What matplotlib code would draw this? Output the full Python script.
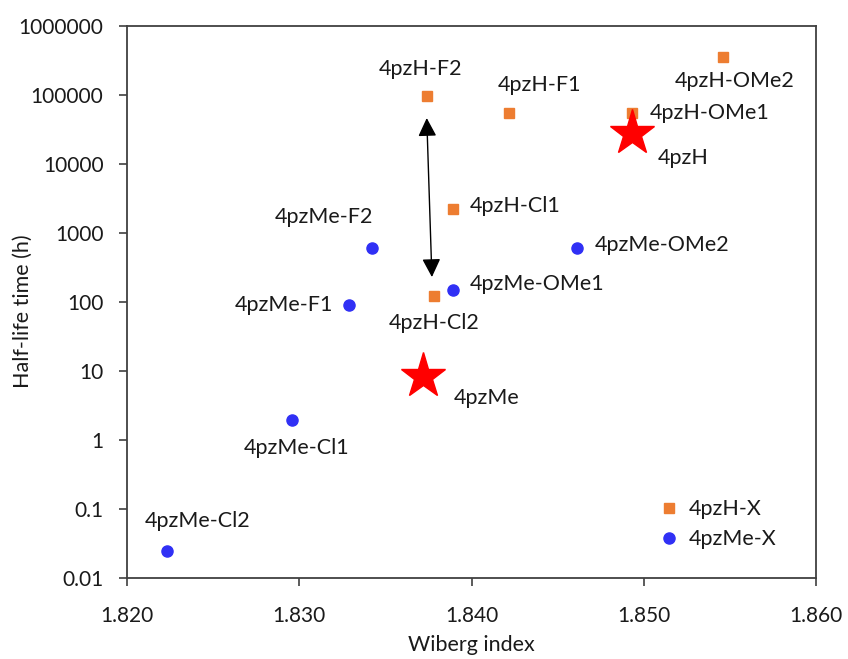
import matplotlib
matplotlib.use("Agg")
import matplotlib.pyplot as plt
from matplotlib.ticker import FixedLocator, FixedFormatter, NullLocator

plt.rcParams['font.family'] = ['Lato', 'DejaVu Sans']

# 4pzH-X series (orange squares)
h_names = ["4pzH-F2", "4pzH-F1", "4pzH-OMe2", "4pzH-OMe1", "4pzH-Cl1", "4pzH-Cl2"]
h_x = [1.8374, 1.8422, 1.8546, 1.8493, 1.8389, 1.8378]
h_y = [97000, 55000, 356000, 55000, 2230, 122]

# 4pzMe-X series (blue circles)
me_names = ["4pzMe-F2", "4pzMe-F1", "4pzMe-OMe1", "4pzMe-OMe2", "4pzMe-Cl1", "4pzMe-Cl2"]
me_x = [1.8342, 1.8329, 1.8389, 1.8461, 1.8296, 1.8223]
me_y = [606, 90.5, 149, 606, 1.95, 0.0246]

# parent compounds (red stars)
star_names = ["4pzH", "4pzMe"]
star_x = [1.8493, 1.8372]
star_y = [28100, 8.5]

# double arrow endpoints
arrow_top = (1.8374, 46400)
arrow_bottom = (1.8377, 230)

x_ticks = [1.820, 1.830, 1.840, 1.850, 1.860]
x_ticklabels = ["1.820", "1.830", "1.840", "1.850", "1.860"]
y_ticks = [0.01, 0.1, 1, 10, 100, 1000, 10000, 100000, 1000000]
y_ticklabels = ["0.01", "0.1", "1", "10", "100", "1000", "10000", "100000", "1000000"]

# label offsets in pixels (dx, dy, ha)
h_offsets = [(-6, 27, 'center'), (30, 28, 'center'), (12, -24, 'center'),
             (18, 0, 'left'), (17, 3, 'left'), (0, -27, 'center')]
me_offsets = [(-48, 31, 'center'), (-16, 0, 'right'), (17, 6, 'left'),
              (18, 3, 'left'), (4, -28, 'center'), (31, 30, 'center')]
star_offsets = [(51, -25, 'center'), (63, -22, 'center')]

orange = '#ED7D31'
blue = '#3030F5'
red = '#FF0000'
axcol = '#404040'
txtcol = '#1a1a1a'

fig = plt.figure(figsize=(8.48, 6.59), dpi=100)
ax = fig.add_axes([0.1498, 0.1229, 0.8125, 0.8376])

ax.set_yscale('log')
ax.set_xlim(1.820, 1.860)
ax.set_ylim(0.01, 1000000)

ax.plot(h_x, h_y, linestyle='none', marker='s', markersize=7.5, color=orange,
        label='4pzH-X', zorder=3)
ax.plot(me_x, me_y, linestyle='none', marker='o', markersize=8, color=blue,
        label='4pzMe-X', zorder=3)
ax.plot(star_x, star_y, linestyle='none', marker='*', markersize=34, color=red,
        zorder=4)

fs = 15.5
for names, xs, ys, offs in [(h_names, h_x, h_y, h_offsets),
                            (me_names, me_x, me_y, me_offsets),
                            (star_names, star_x, star_y, star_offsets)]:
    for n, x, y, (dx, dy, ha) in zip(names, xs, ys, offs):
        ax.annotate(n, xy=(x, y), xytext=(dx, dy), textcoords='offset pixels',
                    ha=ha, va='center', fontsize=fs, color=txtcol, zorder=5)

ax.annotate('', xy=arrow_top, xytext=arrow_bottom,
            arrowprops=dict(arrowstyle='<|-|>', mutation_scale=28, lw=1.0,
                            color='black', shrinkA=0, shrinkB=0), zorder=5)

ax.xaxis.set_major_locator(FixedLocator(x_ticks))
ax.xaxis.set_major_formatter(FixedFormatter(x_ticklabels))
ax.yaxis.set_major_locator(FixedLocator(y_ticks))
ax.yaxis.set_major_formatter(FixedFormatter(y_ticklabels))
ax.yaxis.set_minor_locator(NullLocator())
ax.xaxis.set_minor_locator(NullLocator())

ax.tick_params(axis='both', direction='out', length=6, width=1.2, color=axcol,
               labelsize=15, labelcolor=txtcol)
ax.tick_params(axis='y', pad=11)
ax.tick_params(axis='x', pad=14)
for s in ax.spines.values():
    s.set_color(axcol)
    s.set_linewidth(1.3)

ax.set_xlabel('Wiberg index', fontsize=15.5, color=txtcol)
ax.xaxis.set_label_coords(0.5, -0.104)
ax.set_ylabel('Half-life time (h)', fontsize=15.5, color=txtcol)
ax.yaxis.set_label_coords(-0.137, 0.484)

leg = ax.legend(loc='lower left', bbox_to_anchor=(0.749, 0.025), frameon=False,
                fontsize=15.5, handletextpad=0.4, labelspacing=0.45,
                handlelength=1.0, borderpad=0.2)
for t in leg.get_texts():
    t.set_color(txtcol)

fig.savefig('out.png', dpi=100)
